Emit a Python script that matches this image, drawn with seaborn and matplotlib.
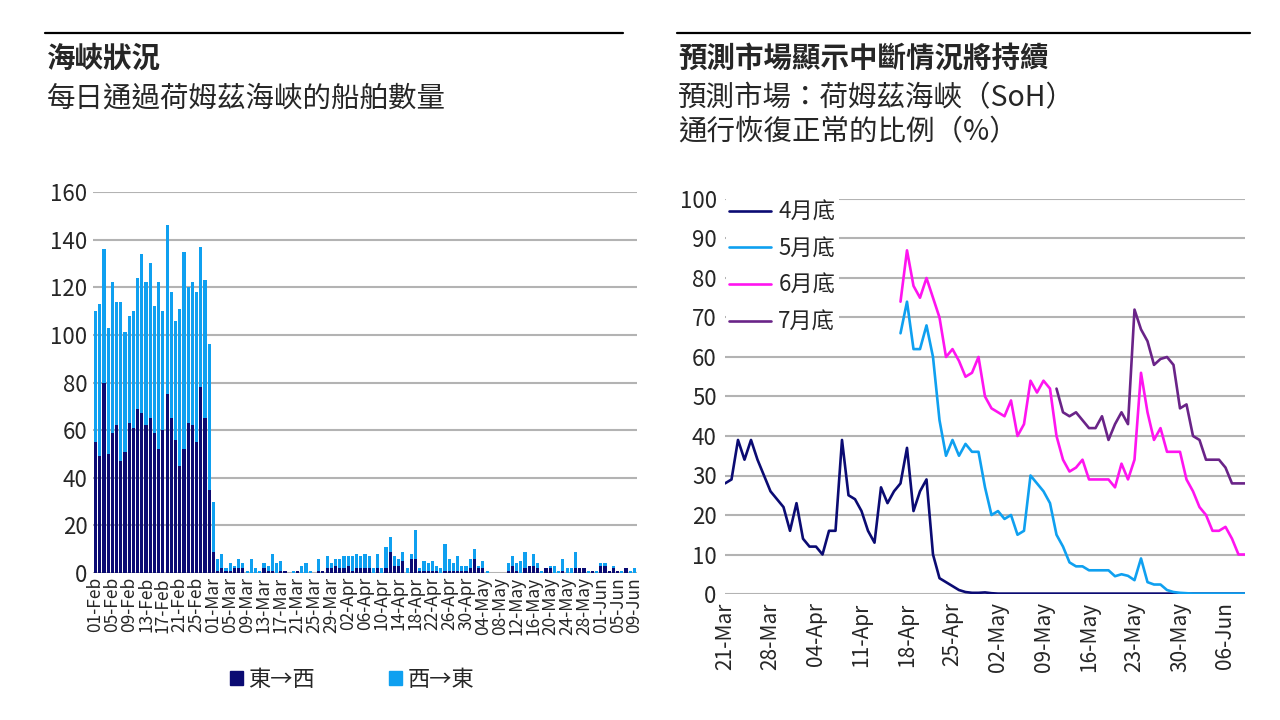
import pandas as pd
import seaborn as sns
import matplotlib.pyplot as plt
from matplotlib.lines import Line2D
from matplotlib.patches import Patch

sns.set_theme(style='white')
plt.rcParams['font.family'] = ['Noto Sans CJK TC', 'DejaVu Sans']

# ---- 左圖：每日通過荷姆茲海峽的船舶數量 (01-Feb ~ 09-Jun) ----
feb_total = [110, 113, 136, 103, 122, 114, 114, 101, 108, 110, 124, 134, 122, 130,
             112, 122, 110, 146, 118, 106, 111, 135, 120, 122, 118, 137, 123, 96]
feb_east = [55, 49, 80, 50, 59, 62, 47, 51, 63, 61, 69, 67, 62, 65,
            59, 52, 60, 75, 65, 56, 45, 52, 63, 62, 55, 78, 65, 35]
mar_may_total = [30, 6, 8, 2, 4, 3, 6, 4, 1, 6, 2, 1, 4, 3, 8, 4, 5, 1, 0, 1, 1, 3,
                 4, 1, 0, 6, 1, 7, 4, 6, 6, 7, 7, 7, 8, 7, 8, 7, 2, 8, 2, 11, 15, 7,
                 6, 9, 2, 8, 18, 2, 5, 4, 5, 3, 2, 12, 6, 4, 7, 3, 3, 6, 10, 3, 5, 1]
mar_may_east = [9, 1, 2, 1, 1, 2, 2, 2, 0, 0, 0, 0, 2, 1, 1, 0, 1, 1, 0, 0, 1, 0,
                0, 0, 0, 1, 1, 2, 2, 3, 2, 2, 3, 1, 2, 2, 2, 2, 0, 2, 0, 2, 9, 3,
                3, 5, 0, 6, 6, 1, 1, 1, 1, 1, 0, 1, 1, 1, 1, 1, 1, 2, 6, 2, 2, 0]
gap_total = [0, 0, 0, 0]
gap_east = [0, 0, 0, 0]
may_jun_total = [4, 7, 4, 5, 9, 3, 8, 4, 1, 2, 3, 3, 1, 6, 2, 2, 9, 2, 2, 1, 1, 1,
                 4, 4, 1, 3, 1, 1, 2, 1, 2]
may_jun_east = [1, 3, 1, 0, 2, 3, 3, 2, 0, 2, 2, 0, 0, 1, 0, 0, 2, 2, 2, 0, 1, 0,
                3, 3, 1, 2, 1, 0, 2, 0, 0]

ship_dates = pd.date_range('2026-02-01', '2026-06-09', freq='D')
ship_total = feb_total + mar_may_total + gap_total + may_jun_total
ship_east = feb_east + mar_may_east + gap_east + may_jun_east

# ---- 右圖：預測市場 通行恢復正常的比例 (%) ----
market_dates = pd.date_range('2026-03-21', '2026-06-09', freq='D')
apr_end = [28, 29, 39, 34, 39, 34, 30, 26, 24, 22, 16, 23, 14, 12, 12, 10, 16, 16, 39,
           25, 24, 21, 16, 13, 27, 23, 26, 28, 37, 21, 26, 29, 10, 4, 3, 2, 1, 0.5,
           0.3, 0.3, 0.4, 0.2, 0.1, 0.1, 0.1, 0.1, 0.1, 0.1, 0.1, 0.1, 0.1, 0.1, 0.1,
           0.1, 0.1, 0.1, 0.1, 0.1, 0.1, 0.1, 0.1, 0.1, 0.1, 0.1, 0.1, 0.1, 0.1, 0.1,
           0.1, 0.1, 0.1, 0.1, 0.1, 0.1, 0.1, 0.1, 0.1, 0.1, 0.1, 0.1, 0.1]
may_end = [66, 74, 62, 62, 68, 60, 44, 35, 39, 35, 38, 36, 36, 27, 20, 21, 19, 20,
           15, 16, 30, 28, 26, 23, 15, 12, 8, 7, 7, 6, 6, 6, 6, 4.5, 5, 4.6, 3.5, 9,
           3, 2.4, 2.4, 1, 0.5, 0.3, 0.2, 0.1, 0.1, 0.1, 0.1, 0.1, 0.1, 0.1, 0.1, 0.1]
jun_end = [74, 87, 78, 75, 80, 75, 70, 60, 62, 59, 55, 56, 60, 50, 47, 46, 45, 49,
           40, 43, 54, 51, 54, 52, 40, 34, 31, 32, 34, 29, 29, 29, 29, 27, 33, 29, 34,
           56, 46, 39, 42, 36, 36, 36, 29, 26, 22, 20, 16, 16, 17, 14, 10, 10]
jul_end = [52, 46, 45, 46, 44, 42, 42, 45, 39, 43, 46, 43, 72, 67, 64, 58, 59.5, 60,
           58, 47, 48, 40, 39, 34, 34, 34, 32, 28, 28, 28]
series_names = ['4月底', '5月底', '6月底', '7月底']

navy = '#0b0b73'
light_blue = '#0fa0f0'
colors = {'4月底': navy, '5月底': light_blue, '6月底': '#ff14f0', '7月底': '#6a2488'}
grid_color = '#b3b3b3'

fig = plt.figure(figsize=(12.8, 7.2), dpi=100)

# 標題
fig.add_artist(Line2D([45 / 1280, 623 / 1280], [0.954, 0.954], color='black', lw=1.6))
fig.add_artist(Line2D([677 / 1280, 1250 / 1280], [0.954, 0.954], color='black', lw=1.6))
fig.text(47 / 1280, 0.918, '海峽狀況', fontsize=20.5, fontweight='bold', va='center')
fig.text(47 / 1280, 0.863, '每日通過荷姆茲海峽的船舶數量', fontsize=20.5, va='center')
fig.text(678 / 1280, 0.918, '預測市場顯示中斷情況將持續', fontsize=20.5, fontweight='bold', va='center')
fig.text(678 / 1280, 0.863, '預測市場：荷姆茲海峽（SoH）', fontsize=20.5, va='center')
fig.text(678 / 1280, 0.816, '通行恢復正常的比例（%）', fontsize=20.5, va='center')

# ---- 左圖 ----
ships = pd.DataFrame({'date': ship_dates.strftime('%d-%b'),
                      'total': ship_total, 'east': ship_east})
ax1 = fig.add_axes([93 / 1280, 1 - 573 / 720, 544 / 1280, 381 / 720])
sns.barplot(data=ships, x='date', y='total', color=light_blue, saturation=1,
            width=0.76, errorbar=None, linewidth=0, ax=ax1)
sns.barplot(data=ships, x='date', y='east', color=navy, saturation=1,
            width=0.76, errorbar=None, linewidth=0, ax=ax1)
ax1.set_ylim(0, 160)
ax1.set_yticks(range(0, 161, 20))
ax1.set_xlim(-0.6, len(ships) - 0.4)
tick_pos = list(range(0, len(ships), 4))
ax1.set_xticks(tick_pos)
ax1.set_xticklabels(ships['date'].iloc[tick_pos], rotation=90, fontsize=12.5)
ax1.tick_params(axis='y', labelsize=16, length=0, pad=4)
ax1.tick_params(axis='x', length=0, pad=3)
ax1.set_xlabel('')
ax1.set_ylabel('')
ax1.grid(axis='y', color=grid_color, lw=1.5)
ax1.set_axisbelow(True)
sns.despine(ax=ax1, left=True, bottom=True)

fig.legend(handles=[Patch(color=navy, label='東→西'), Patch(color=light_blue, label='西→東')],
           loc='center', bbox_to_anchor=(352 / 1280, 1 - 679 / 720), ncol=2,
           frameon=False, fontsize=16, handlelength=0.6, handleheight=0.6,
           handletextpad=0.25, columnspacing=3.3)

# ---- 右圖 ----
frames = []
for name, vals in zip(series_names, [apr_end, may_end, jun_end, jul_end]):
    frames.append(pd.DataFrame({'date': market_dates[len(market_dates) - len(vals):],
                                'value': vals, 'series': name}))
market = pd.concat(frames, ignore_index=True)

ax2 = fig.add_axes([725 / 1280, 1 - 594 / 720, 520 / 1280, 395 / 720])
sns.lineplot(data=market, x='date', y='value', hue='series', hue_order=series_names,
             palette=colors, linewidth=1.9, ax=ax2)
ax2.set_ylim(0, 100)
ax2.set_yticks(range(0, 101, 10))
ax2.set_xlim(market_dates[0], market_dates[-1])
week_ticks = pd.date_range('2026-03-21', '2026-06-06', freq='7D')
ax2.set_xticks(week_ticks)
ax2.set_xticklabels(week_ticks.strftime('%d-%b'), rotation=90, fontsize=15)
ax2.tick_params(axis='y', labelsize=16, length=0, pad=6)
ax2.tick_params(axis='x', length=0, pad=6)
ax2.set_xlabel('')
ax2.set_ylabel('')
ax2.grid(axis='y', color=grid_color, lw=1.5)
ax2.set_axisbelow(True)
sns.despine(ax=ax2, left=True, bottom=True)
handles, labels = ax2.get_legend_handles_labels()
leg = ax2.legend(handles, labels, loc='upper left', bbox_to_anchor=(715 / 1280, 1 - 186 / 720),
                 bbox_transform=fig.transFigure, fontsize=16, handlelength=1.85,
                 handletextpad=0.35, labelspacing=0.62, borderpad=0.15,
                 frameon=True, facecolor='white', edgecolor='white', framealpha=1,
                 fancybox=False)
leg.get_frame().set_linewidth(0)

fig.savefig('out.png', dpi=100, facecolor='white')
